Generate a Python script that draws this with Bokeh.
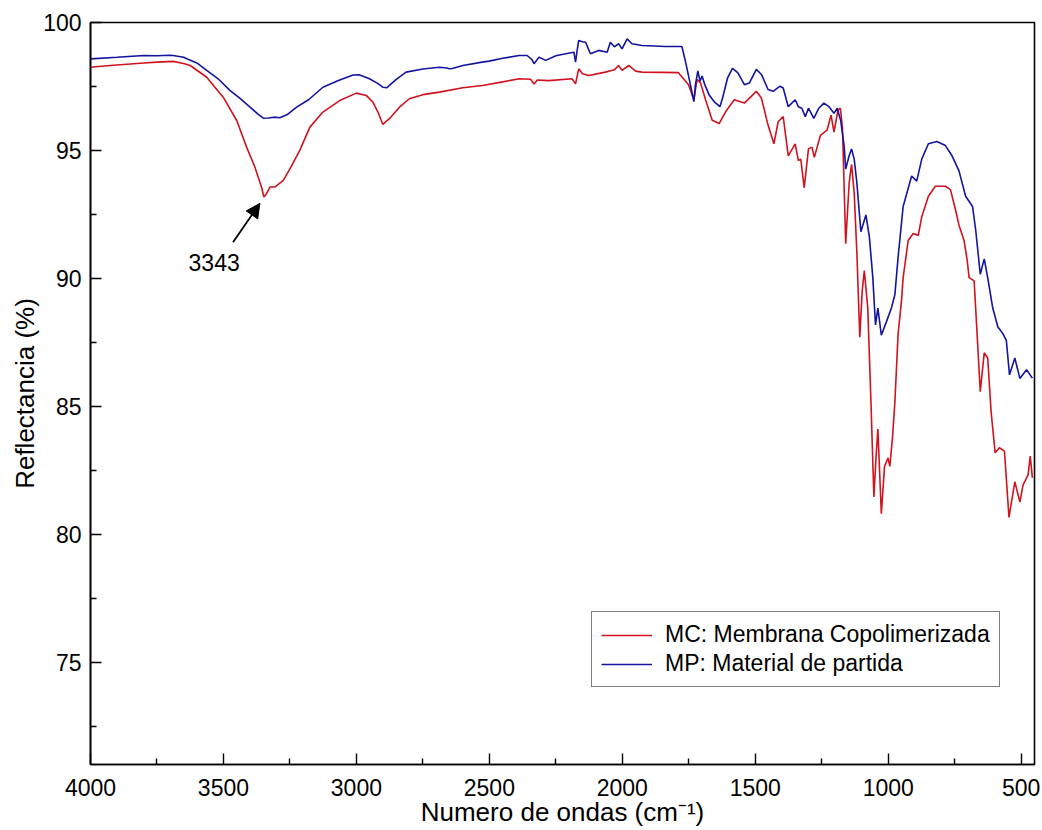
from bokeh.plotting import figure
from bokeh.models import Range1d, FixedTicker, Arrow, NormalHead, Label
from bokeh.embed import file_html
from bokeh.resources import INLINE

# ---- data ----
mp_wn = [4000, 3900, 3800, 3750, 3700, 3689, 3650, 3638, 3600, 3563, 3520, 3475, 3440, 3400, 3370, 3350,
         3330, 3310, 3288, 3260, 3225, 3180, 3126, 3070, 3013, 2990, 2951, 2920, 2901, 2885, 2876, 2850,
         2813, 2750, 2688, 2660, 2651, 2639, 2600, 2527, 2501, 2450, 2388, 2358, 2340, 2332, 2320, 2313,
         2288, 2250, 2213, 2182, 2176, 2170, 2164, 2150, 2138, 2125, 2120, 2089, 2057, 2045, 2030, 2014,
         2001, 1982, 1964, 1926, 1880, 1839, 1776, 1763, 1744, 1731, 1725, 1716, 1708, 1700, 1690, 1674,
         1655, 1633, 1623, 1604, 1586, 1566, 1541, 1522, 1496, 1477, 1452, 1433, 1407, 1395, 1376, 1350,
         1338, 1325, 1312, 1300, 1280, 1261, 1242, 1223, 1204, 1192, 1179, 1166, 1160, 1147, 1138, 1128,
         1118, 1103, 1084, 1071, 1058, 1048, 1039, 1026, 1007, 988, 975, 963, 944, 912, 893, 874, 849, 817,
         785, 760, 734, 709, 683, 671, 654, 639, 626, 607, 588, 569, 556, 544, 524, 505, 480, 458]
mp_r = [98.58, 98.64, 98.71, 98.70, 98.72, 98.71, 98.64, 98.58, 98.42, 98.13, 97.80, 97.34, 97.05, 96.69,
        96.42, 96.26, 96.27, 96.30, 96.28, 96.40, 96.69, 96.98, 97.47, 97.72, 97.95, 97.96, 97.80, 97.62,
        97.47, 97.45, 97.54, 97.78, 98.06, 98.18, 98.25, 98.22, 98.19, 98.20, 98.32, 98.45, 98.49, 98.60,
        98.71, 98.71, 98.55, 98.39, 98.55, 98.64, 98.52, 98.70, 98.78, 98.84, 98.45, 98.90, 99.30, 99.25,
        99.23, 98.90, 98.78, 98.91, 98.84, 99.23, 99.05, 99.17, 98.97, 99.36, 99.17, 99.10, 99.08, 99.06,
        99.06, 98.50, 97.57, 96.91, 97.57, 98.11, 97.71, 97.91, 97.57, 97.18, 96.91, 96.71, 97.05, 97.84,
        98.21, 98.04, 97.57, 97.64, 98.17, 97.97, 97.38, 97.31, 97.51, 97.44, 96.71, 96.98, 96.71, 96.65,
        96.32, 96.65, 96.25, 96.65, 96.85, 96.71, 96.45, 96.65, 96.18, 95.19, 94.27, 94.79, 95.06, 94.66,
        93.73, 91.82, 92.48, 91.62, 90.03, 88.18, 88.84, 87.78, 88.30, 88.84, 89.37, 90.82, 92.81, 94.00,
        93.80, 94.66, 95.26, 95.35, 95.19, 94.79, 94.20, 93.21, 92.81, 91.88, 90.16, 90.76, 90.03, 88.84,
        88.11, 87.84, 87.58, 86.23, 86.89, 86.09, 86.43, 86.10]

mc_wn = [4000, 3950, 3876, 3800, 3750, 3689, 3650, 3625, 3563, 3501, 3450, 3413, 3382, 3357, 3348, 3338,
         3325, 3307, 3275, 3250, 3213, 3175, 3126, 3063, 3000, 2963, 2938, 2919, 2901, 2876, 2838, 2801,
         2750, 2688, 2600, 2526, 2450, 2388, 2345, 2332, 2320, 2276, 2189, 2176, 2164, 2150, 2126, 2064,
         2030, 2014, 2001, 1976, 1950, 1926, 1850, 1789, 1751, 1731, 1719, 1706, 1687, 1662, 1636, 1611,
         1579, 1541, 1496, 1477, 1452, 1430, 1414, 1395, 1376, 1350, 1338, 1329, 1316, 1300, 1287, 1278,
         1255, 1230, 1215, 1204, 1189, 1180, 1172, 1160, 1147, 1138, 1128, 1118, 1107, 1098, 1090, 1077,
         1065, 1054, 1046, 1039, 1026, 1014, 1001, 994, 984, 975, 963, 950, 944, 925, 906, 887, 874, 849,
         823, 785, 766, 747, 734, 715, 703, 696, 677, 667, 654, 639, 626, 613, 598, 582, 563, 546, 524,
         505, 493, 474, 466, 458]
mc_r = [98.25, 98.30, 98.36, 98.42, 98.45, 98.48, 98.40, 98.32, 97.86, 97.08, 96.17, 95.13, 94.35, 93.57,
        93.18, 93.31, 93.57, 93.57, 93.83, 94.28, 95.00, 95.91, 96.50, 96.95, 97.24, 97.15, 96.89, 96.50,
        96.02, 96.24, 96.69, 97.02, 97.18, 97.28, 97.45, 97.54, 97.68, 97.80, 97.78, 97.60, 97.75, 97.73,
        97.80, 97.60, 98.19, 98.00, 97.93, 98.06, 98.15, 98.32, 98.13, 98.32, 98.10, 98.06, 98.05, 98.04,
        97.57, 96.98, 97.77, 97.64, 96.98, 96.18, 96.05, 96.52, 96.98, 96.85, 97.31, 97.05, 95.99, 95.26,
        96.12, 96.32, 94.79, 95.26, 94.60, 94.66, 93.54, 95.06, 95.13, 94.73, 95.59, 95.79, 96.38, 95.72,
        96.58, 96.65, 95.86, 91.35, 93.73, 94.46, 93.34, 91.00, 87.70, 89.50, 90.30, 88.84, 85.17, 81.46,
        83.00, 84.11, 80.80, 82.65, 82.98, 82.65, 83.78, 85.17, 87.82, 89.14, 90.03, 91.48, 91.75, 91.68,
        92.41, 93.21, 93.60, 93.60, 93.47, 92.68, 92.08, 91.48, 90.69, 90.03, 89.90, 88.04, 85.57, 87.09,
        86.89, 84.77, 83.18, 83.38, 83.25, 80.66, 82.05, 81.26, 81.93, 82.32, 83.05, 82.20]

x_ticks = [4000, 3500, 3000, 2500, 2000, 1500, 1000, 500]
y_ticks = [75, 80, 85, 90, 95, 100]

x_title = "Numero de ondas (cm\u207b\u00b9)"
y_title = "Reflectancia (%)"
mc_label = "MC: Membrana Copolimerizada"
mp_label = "MP: Material de partida"
peak_label = "3343"
peak_wn = 3343

FONT = "Liberation Sans"
RED = "#d0131f"
BLUE = "#15149f"

p = figure(width=1042, height=830, x_range=Range1d(4000, 450), y_range=Range1d(71, 100),
           output_backend="svg", toolbar_location=None,
           min_border_left=90, min_border_right=8, min_border_top=22, min_border_bottom=66)
p.background_fill_color = "white"
p.border_fill_color = "white"
p.grid.visible = False
p.outline_line_color = "black"
p.outline_line_width = 1.6

p.line(mc_wn, mc_r, line_color=RED, line_width=1.6, legend_label=mc_label)
p.line(mp_wn, mp_r, line_color=BLUE, line_width=1.6, legend_label=mp_label)

x_minor = [t - 250 for t in x_ticks[:-1]]
y_minor = [t - 2.5 for t in y_ticks]
p.xaxis.ticker = FixedTicker(ticks=x_ticks, minor_ticks=x_minor)
p.yaxis.ticker = FixedTicker(ticks=y_ticks, minor_ticks=y_minor)

for ax in (p.xaxis[0], p.yaxis[0]):
    ax.axis_line_color = "black"
    ax.axis_line_width = 1.6
    ax.major_tick_in = 11
    ax.major_tick_out = 0
    ax.minor_tick_in = 6
    ax.minor_tick_out = 0
    ax.major_tick_line_width = 1.4
    ax.minor_tick_line_width = 1.4
    ax.major_label_text_font = FONT
    ax.major_label_text_font_size = "23px"
    ax.major_label_text_color = "black"
    ax.axis_label_text_font = FONT
    ax.axis_label_text_font_size = "26px"
    ax.axis_label_text_font_style = "normal"
    ax.axis_label_text_color = "black"

p.xaxis.axis_label = x_title
p.yaxis.axis_label = y_title
p.xaxis.major_label_standoff = 14
p.xaxis.axis_label_standoff = -2
p.yaxis.major_label_standoff = 9
p.yaxis.axis_label_standoff = 0

leg = p.legend[0]
leg.location = (501, 77)
leg.margin = 0
leg.padding = 9
leg.spacing = 2
leg.glyph_width = 51
leg.glyph_height = 26
leg.label_height = 26
leg.label_standoff = 13
leg.label_text_font = FONT
leg.label_text_font_size = "23px"
leg.label_text_color = "black"
leg.border_line_color = "black"
leg.border_line_width = 1.5
leg.background_fill_alpha = 1.0

p.add_layout(Arrow(end=NormalHead(size=14, fill_color="black", line_color="black"),
                   x_start=3464, y_start=91.41, x_end=peak_wn + 20, y_end=92.93,
                   line_color="black", line_width=1.8))
p.add_layout(Label(x=3535, y=90.63, text=peak_label, text_font=FONT, text_font_size="23px",
                   text_align="center", text_baseline="middle", text_color="black"))

open("out.html", "w").write(file_html(p, INLINE))
